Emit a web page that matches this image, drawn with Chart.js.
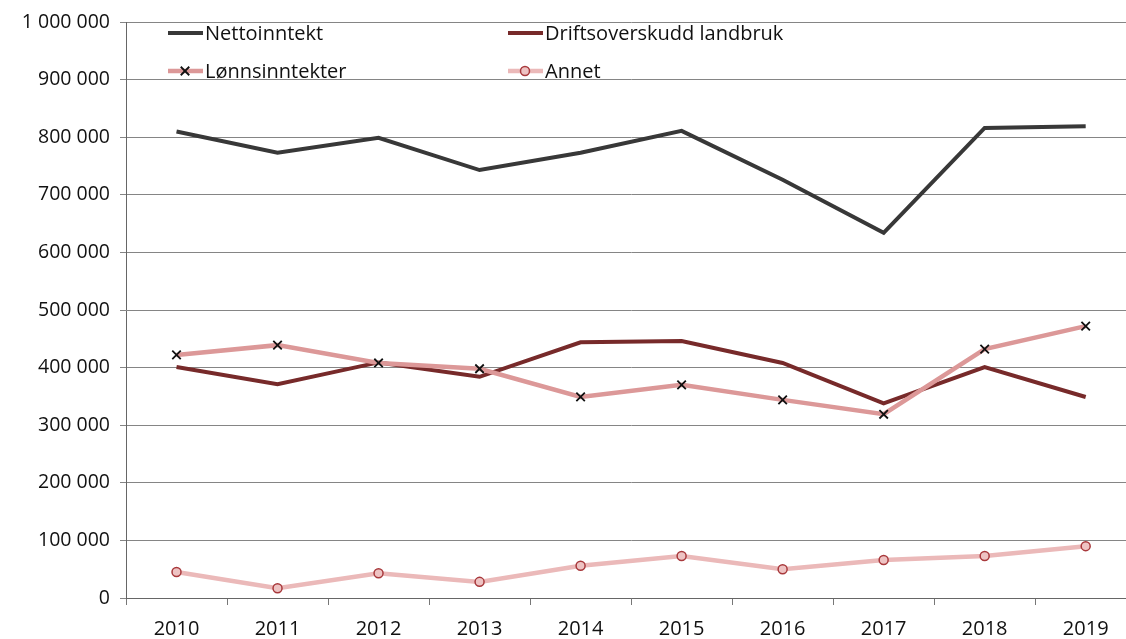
<!DOCTYPE html>
<html>
<head>
<meta charset="utf-8">
<script src="https://cdn.jsdelivr.net/npm/chart.js@4/dist/chart.umd.min.js"></script>
<style>
	html, body { margin: 0; padding: 0; background: #fff; overflow: hidden; }
	#wrap { width: 1144px; height: 639px; }
</style>
</head>
<body>
<div id="wrap"><canvas id="chart" width="1144" height="639"></canvas></div>
<script>
const years = ['2010', '2011', '2012', '2013', '2014', '2015', '2016', '2017', '2018', '2019'];
const nettoinntekt = [810000, 773000, 799000, 743000, 773000, 811000, 726000, 634000, 816000, 819000];
const driftsoverskudd = [401000, 371000, 409000, 384000, 444000, 446000, 408000, 338000, 401000, 349000];
const lonnsinntekter = [422000, 439000, 408000, 398000, 349000, 370000, 344000, 319000, 432000, 472000];
const annet = [45000, 17000, 43000, 28000, 56000, 73000, 50000, 66000, 73000, 90000];
const yTicks = [0, 100000, 200000, 300000, 400000, 500000, 600000, 700000, 800000, 900000, 1000000];

const FONT = '"Open Sans", "Noto Sans", sans-serif';

const fmt = v=>String(v).replace(/\B(?=(\d{3})+(?!\d))/g, ' ');

// legend drawn inside the plot area, two columns like the original
const insideLegend = {
	id: 'insideLegend',
	afterDraw(chart) {
		const ctx = chart.ctx;
		const cols = [168, 508];
		const rows = [33, 71];
		ctx.save();
		chart.data.datasets.forEach((ds, i)=>{
			const x = cols[i % 2];
			const y = rows[Math.floor(i / 2)];
			ctx.beginPath();
			ctx.strokeStyle = ds.borderColor;
			ctx.lineWidth = ds.borderWidth;
			ctx.moveTo(x, y);
			ctx.lineTo(x + 35, y);
			ctx.stroke();
			if (ds.pointRadius > 0) {
				ctx.strokeStyle = ds.pointBorderColor;
				ctx.fillStyle = ds.pointBackgroundColor;
				ctx.lineWidth = ds.pointBorderWidth;
				Chart.helpers.drawPoint(ctx, {
					pointStyle: ds.pointStyle,
					radius: ds.pointRadius,
					borderWidth: ds.pointBorderWidth,
					rotation: 0
				}, x + 17, y);
			}
			ctx.fillStyle = '#111';
			ctx.font = '20px ' + FONT;
			ctx.textBaseline = 'middle';
			ctx.textAlign = 'left';
			ctx.fillText(ds.label, x + 37, y + 1);
		});
		ctx.restore();
	}
};

const chart = new Chart(document.getElementById('chart'), {
	type: 'line',
	data: {
		labels: years,
		datasets: [
			{
				label: 'Nettoinntekt',
				data: nettoinntekt,
				borderColor: '#383838',
				borderWidth: 4,
				pointRadius: 0,
				order: 0
			},
			{
				label: 'Driftsoverskudd landbruk',
				data: driftsoverskudd,
				borderColor: '#772a2a',
				borderWidth: 4,
				pointRadius: 0,
				order: 2
			},
			{
				label: 'Lønnsinntekter',
				data: lonnsinntekter,
				borderColor: '#dc9898',
				borderWidth: 4.5,
				pointStyle: 'crossRot',
				pointRadius: 6,
				pointBorderColor: '#111',
				pointBackgroundColor: '#111',
				pointBorderWidth: 1.8,
				order: 1
			},
			{
				label: 'Annet',
				data: annet,
				borderColor: '#ebb9b9',
				borderWidth: 4.5,
				pointStyle: 'circle',
				pointRadius: 4.5,
				pointBorderColor: '#a8393c',
				pointBackgroundColor: '#eec3c3',
				pointBorderWidth: 1.5,
				order: 3
			}
		]
	},
	plugins: [insideLegend],
	options: {
		responsive: false,
		animation: false,
		layout: { padding: { top: 22, right: 0, left: 0, bottom: 0 } },
		plugins: {
			legend: { display: false },
			tooltip: { enabled: false }
		},
		elements: { line: { tension: 0 } },
		scales: {
			x: {
				offset: true,
				grid: {
					offset: true,
					drawOnChartArea: false,
					color: '#777',
					tickLength: 7,
					lineWidth: 1
				},
				border: { color: '#666', width: 1 },
				ticks: {
					color: '#111',
					font: { family: FONT, size: 20 },
					padding: 12,
					maxRotation: 0,
					autoSkip: false
				},
				afterFit(scale) { scale.height = 41; }
			},
			y: {
				min: 0,
				max: 1000000,
				afterBuildTicks(scale) { scale.ticks = yTicks.map(v=>({ value: v })); },
				grid: {
					color: '#858585',
					lineWidth: 1,
					tickLength: 6
				},
				border: { color: '#666', width: 1 },
				ticks: {
					color: '#111',
					font: { family: FONT, size: 19.5 },
					padding: 10,
					callback: v=>fmt(v)
				},
				afterFit(scale) { scale.width = 126; }
			}
		}
	}
});
</script>
</body>
</html>
